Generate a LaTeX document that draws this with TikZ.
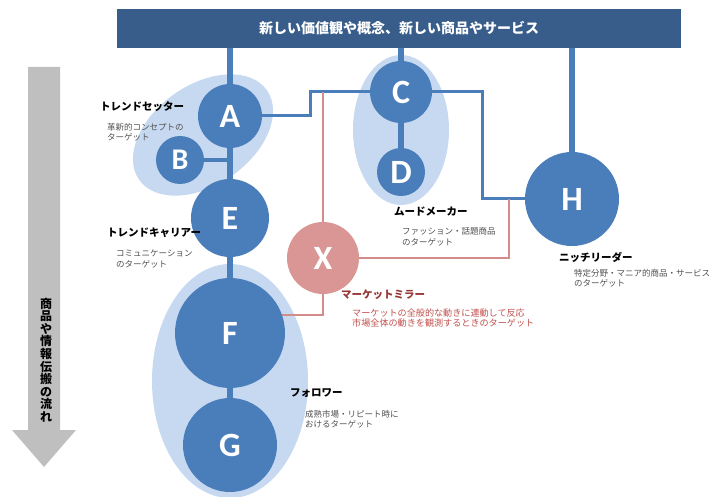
\documentclass[tikz,border=0pt]{standalone}
\usepackage{fontspec}
\setmainfont{Noto Sans CJK JP}
\newfontfamily\letterfont{Carlito}
\usetikzlibrary{calc}
\definecolor{barblue}{RGB}{56,93,138}
\definecolor{cblue}{RGB}{74,126,187}
\definecolor{lblue}{RGB}{198,217,240}
\definecolor{xred}{RGB}{217,150,148}
\definecolor{rline}{RGB}{212,140,138}
\definecolor{dred}{RGB}{149,55,53}
\definecolor{tred}{RGB}{192,80,77}
\definecolor{agray}{RGB}{191,191,191}
\definecolor{sgray}{RGB}{80,80,80}
\pgfdeclarelayer{ell}
\pgfdeclarelayer{lines}
\pgfsetlayers{ell,lines,main}
\begin{document}
\begin{tikzpicture}[x=1pt,y=-1pt,
  circ/.style={circle,fill=cblue,inner sep=0pt,text=white,font={\letterfont\bfseries\fontsize{34}{34}\selectfont}},
  bar/.style={fill=barblue,inner sep=0pt,minimum width=564pt,minimum height=39pt,text=white,font={\bfseries\fontsize{14}{14}\selectfont}},
  lab/.style={anchor=west,inner sep=0pt,font={\bfseries\fontsize{10.5}{10.5}\selectfont}},
  sub/.style={anchor=west,inner sep=0pt,align=left,text=sgray,font={\fontsize{8.5}{10.5}\selectfont}},
  stem/.style={draw=cblue,line width=6pt},
  conn/.style={draw=cblue,line width=3pt},
  rl/.style={draw=rline,line width=2.5pt},
  ell/.style={fill=lblue}
]
\useasboundingbox (0,0) rectangle (713,497);

% flow arrow
\fill[agray] (28,67) -- (60,67) -- (60,430) -- (76,430) -- (44,467) -- (12,430) -- (28,430) -- cycle;
\node[inner sep=0pt,align=center,font={\bfseries\fontsize{12}{12.6}\selectfont}] (flow) at (46,360)
  {商\\品\\や\\情\\報\\伝\\搬\\の\\流\\れ};

% top bar
\node[bar] (top) at (399,28.5) {新しい価値観や概念、新しい商品やサービス};

% circles
\node[circ,minimum size=64pt] (A) at (230,116) {A};
\node[circ,minimum size=48pt,font={\letterfont\bfseries\fontsize{30}{30}\selectfont}] (B) at (180,160) {B};
\node[circ,minimum size=62pt] (C) at (401,92) {C};
\node[circ,minimum size=48pt] (D) at (401,172) {D};
\node[circ,minimum size=78pt] (E) at (230,218) {E};
\node[circ,minimum size=72pt,fill=xred] (X) at (323,258) {X};
\node[circ,minimum size=110pt] (F) at (230,333) {F};
\node[circ,minimum size=94pt] (G) at (230,445) {G};
\node[circ,minimum size=94pt] (H) at (572,199) {H};

\coordinate (k1) at (310,116);
\coordinate (k2) at (482,199);
\coordinate (k3) at (509,199);
\coordinate (k4) at (323,315);

\begin{pgfonlayer}{ell}
  \fill[ell,rotate around={35:(203,135)}] (203,135) ellipse (78 and 50);
  \fill[ell] (401,130) ellipse (48 and 75);
  \fill[ell] (230,381) ellipse (78 and 117);
\end{pgfonlayer}

\begin{pgfonlayer}{lines}
  \draw[stem] (A.center) -- (A |- top.south);
  \draw[stem] (A.center) -- (G.center);
  \draw[stem] (C.center) -- (C |- top.south);
  \draw[stem] (C.center) -- (D.center);
  \draw[stem] (H.center) -- (H |- top.south);
  \draw[conn,line width=4pt] (B.center) -- (B -| A);
  \draw[conn] (A.center) -- (k1) |- (C.center);
  \draw[conn] (C.center) -| (k2) -- (H.center);
  \draw[rl] (X.center) -- (X |- C);
  \draw[rl] (X.center) -| (k3);
  \draw[rl] (X.center) -- (k4) -- (k4 -| F);
\end{pgfonlayer}

% labels
\node[lab] (l1) at (100,107) {トレンドセッター};
\node[sub] (s1) at (107,132) {革新的コンセプトの\\ターゲット};
\node[lab] (l2) at (107,233) {トレンドキャリアー};
\node[sub] (s2) at (116,259) {コミュニケーション\\のターゲット};
\node[lab] (l3) at (394,212) {ムードメーカー};
\node[sub] (s3) at (402,237) {ファッション・話題商品\\のターゲット};
\node[lab] (l4) at (559,257) {ニッチリーダー};
\node[sub] (s4) at (574,278) {特定分野・マニア的商品・サービス\\のターゲット};
\node[lab,text=dred] (l5) at (341,295) {マーケットミラー};
\node[sub,text=tred,font={\fontsize{9.1}{10.5}\selectfont}] (s5) at (352,318) {マーケットの全般的な動きに連動して反応\\市場全体の動きを観測するときのターゲット};
\node[lab] (l6) at (290,393) {フォロワー};
\node[sub] (s6) at (305,419) {成熟市場・リピート時に\\おけるターゲット};
\end{tikzpicture}
\end{document}
